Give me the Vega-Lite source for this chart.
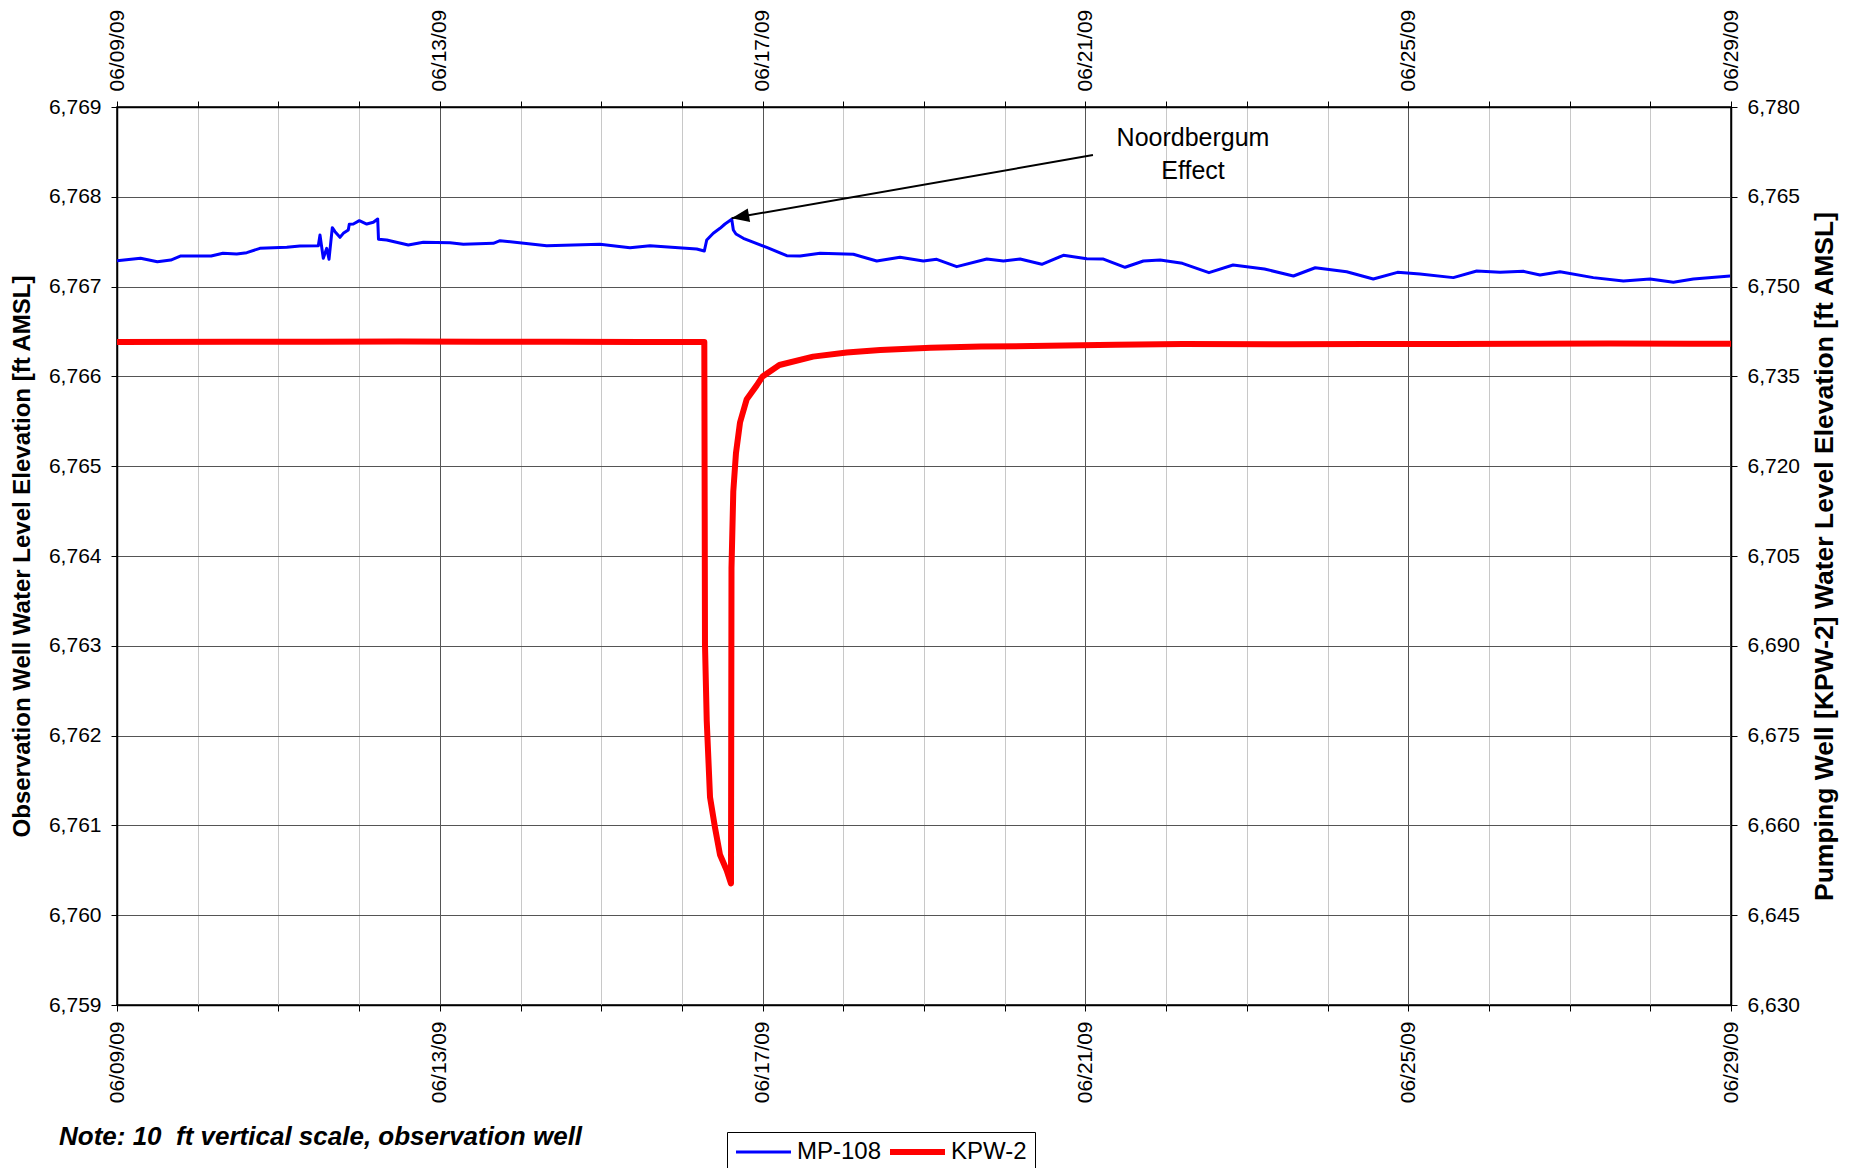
{
  "$schema": "https://vega.github.io/schema/vega-lite/v6.json",
  "width": 1614,
  "height": 898,
  "autosize": {"type": "none"},
  "padding": {"left": 117, "top": 107, "right": 127, "bottom": 163},
  "background": "white",
  "config": {
    "font": "Liberation Sans",
    "view": {"stroke": "black", "strokeWidth": 1.5},
    "axis": {"labelColor": "black", "titleColor": "black", "domainColor": "black", "tickColor": "black", "labelFont": "Liberation Sans", "titleFont": "Liberation Sans"}
  },
  "data": {"values": [
    {"t": "2009-06-09T00:00Z", "series": "MP-108", "elev": 6767.289},
    {"t": "2009-06-09T07:00Z", "series": "MP-108", "elev": 6767.315},
    {"t": "2009-06-09T12:00Z", "series": "MP-108", "elev": 6767.277},
    {"t": "2009-06-09T16:00Z", "series": "MP-108", "elev": 6767.296},
    {"t": "2009-06-09T19:00Z", "series": "MP-108", "elev": 6767.341},
    {"t": "2009-06-10T04:00Z", "series": "MP-108", "elev": 6767.341},
    {"t": "2009-06-10T07:30Z", "series": "MP-108", "elev": 6767.371},
    {"t": "2009-06-10T11:36Z", "series": "MP-108", "elev": 6767.363},
    {"t": "2009-06-10T14:36Z", "series": "MP-108", "elev": 6767.378},
    {"t": "2009-06-10T18:30Z", "series": "MP-108", "elev": 6767.426},
    {"t": "2009-06-11T02:30Z", "series": "MP-108", "elev": 6767.437},
    {"t": "2009-06-11T06:24Z", "series": "MP-108", "elev": 6767.452},
    {"t": "2009-06-11T11:52Z", "series": "MP-108", "elev": 6767.455},
    {"t": "2009-06-11T12:22Z", "series": "MP-108", "elev": 6767.575},
    {"t": "2009-06-11T13:21Z", "series": "MP-108", "elev": 6767.315},
    {"t": "2009-06-11T14:22Z", "series": "MP-108", "elev": 6767.426},
    {"t": "2009-06-11T15:03Z", "series": "MP-108", "elev": 6767.304},
    {"t": "2009-06-11T16:02Z", "series": "MP-108", "elev": 6767.656},
    {"t": "2009-06-11T16:50Z", "series": "MP-108", "elev": 6767.612},
    {"t": "2009-06-11T18:19Z", "series": "MP-108", "elev": 6767.549},
    {"t": "2009-06-11T19:18Z", "series": "MP-108", "elev": 6767.593},
    {"t": "2009-06-11T20:47Z", "series": "MP-108", "elev": 6767.63},
    {"t": "2009-06-11T21:05Z", "series": "MP-108", "elev": 6767.694},
    {"t": "2009-06-11T22:17Z", "series": "MP-108", "elev": 6767.697},
    {"t": "2009-06-12T00:04Z", "series": "MP-108", "elev": 6767.734},
    {"t": "2009-06-12T02:16Z", "series": "MP-108", "elev": 6767.697},
    {"t": "2009-06-12T04:14Z", "series": "MP-108", "elev": 6767.716},
    {"t": "2009-06-12T05:32Z", "series": "MP-108", "elev": 6767.753},
    {"t": "2009-06-12T05:46Z", "series": "MP-108", "elev": 6767.527},
    {"t": "2009-06-12T08:12Z", "series": "MP-108", "elev": 6767.519},
    {"t": "2009-06-12T14:38Z", "series": "MP-108", "elev": 6767.463},
    {"t": "2009-06-12T19:06Z", "series": "MP-108", "elev": 6767.493},
    {"t": "2009-06-13T03:02Z", "series": "MP-108", "elev": 6767.489},
    {"t": "2009-06-13T07:00Z", "series": "MP-108", "elev": 6767.471},
    {"t": "2009-06-13T15:55Z", "series": "MP-108", "elev": 6767.482},
    {"t": "2009-06-13T17:55Z", "series": "MP-108", "elev": 6767.511},
    {"t": "2009-06-14T07:48Z", "series": "MP-108", "elev": 6767.455},
    {"t": "2009-06-14T23:38Z", "series": "MP-108", "elev": 6767.471},
    {"t": "2009-06-15T08:34Z", "series": "MP-108", "elev": 6767.433},
    {"t": "2009-06-15T14:31Z", "series": "MP-108", "elev": 6767.455},
    {"t": "2009-06-16T04:24Z", "series": "MP-108", "elev": 6767.419},
    {"t": "2009-06-16T06:40Z", "series": "MP-108", "elev": 6767.396},
    {"t": "2009-06-16T07:23Z", "series": "MP-108", "elev": 6767.519},
    {"t": "2009-06-16T09:20Z", "series": "MP-108", "elev": 6767.594},
    {"t": "2009-06-16T11:20Z", "series": "MP-108", "elev": 6767.649},
    {"t": "2009-06-16T12:49Z", "series": "MP-108", "elev": 6767.697},
    {"t": "2009-06-16T14:49Z", "series": "MP-108", "elev": 6767.749},
    {"t": "2009-06-16T15:18Z", "series": "MP-108", "elev": 6767.63},
    {"t": "2009-06-16T16:05Z", "series": "MP-108", "elev": 6767.586},
    {"t": "2009-06-16T18:16Z", "series": "MP-108", "elev": 6767.538},
    {"t": "2009-06-17T01:14Z", "series": "MP-108", "elev": 6767.437},
    {"t": "2009-06-17T07:11Z", "series": "MP-108", "elev": 6767.344},
    {"t": "2009-06-17T11:09Z", "series": "MP-108", "elev": 6767.341},
    {"t": "2009-06-17T17:06Z", "series": "MP-108", "elev": 6767.371},
    {"t": "2009-06-18T03:00Z", "series": "MP-108", "elev": 6767.36},
    {"t": "2009-06-18T09:57Z", "series": "MP-108", "elev": 6767.285},
    {"t": "2009-06-18T16:52Z", "series": "MP-108", "elev": 6767.326},
    {"t": "2009-06-18T23:48Z", "series": "MP-108", "elev": 6767.285},
    {"t": "2009-06-19T03:47Z", "series": "MP-108", "elev": 6767.304},
    {"t": "2009-06-19T09:44Z", "series": "MP-108", "elev": 6767.222},
    {"t": "2009-06-19T18:40Z", "series": "MP-108", "elev": 6767.307},
    {"t": "2009-06-19T23:37Z", "series": "MP-108", "elev": 6767.285},
    {"t": "2009-06-20T04:35Z", "series": "MP-108", "elev": 6767.307},
    {"t": "2009-06-20T11:02Z", "series": "MP-108", "elev": 6767.248},
    {"t": "2009-06-20T17:27Z", "series": "MP-108", "elev": 6767.349},
    {"t": "2009-06-21T00:25Z", "series": "MP-108", "elev": 6767.311},
    {"t": "2009-06-21T05:22Z", "series": "MP-108", "elev": 6767.307},
    {"t": "2009-06-21T11:48Z", "series": "MP-108", "elev": 6767.215},
    {"t": "2009-06-21T17:15Z", "series": "MP-108", "elev": 6767.285},
    {"t": "2009-06-21T22:13Z", "series": "MP-108", "elev": 6767.296},
    {"t": "2009-06-22T04:50Z", "series": "MP-108", "elev": 6767.259},
    {"t": "2009-06-22T12:45Z", "series": "MP-108", "elev": 6767.155},
    {"t": "2009-06-22T19:55Z", "series": "MP-108", "elev": 6767.24},
    {"t": "2009-06-23T05:15Z", "series": "MP-108", "elev": 6767.196},
    {"t": "2009-06-23T13:52Z", "series": "MP-108", "elev": 6767.118},
    {"t": "2009-06-23T20:21Z", "series": "MP-108", "elev": 6767.21},
    {"t": "2009-06-24T05:42Z", "series": "MP-108", "elev": 6767.166},
    {"t": "2009-06-24T13:37Z", "series": "MP-108", "elev": 6767.085},
    {"t": "2009-06-24T20:49Z", "series": "MP-108", "elev": 6767.159},
    {"t": "2009-06-25T03:30Z", "series": "MP-108", "elev": 6767.14},
    {"t": "2009-06-25T13:25Z", "series": "MP-108", "elev": 6767.1},
    {"t": "2009-06-25T20:23Z", "series": "MP-108", "elev": 6767.174},
    {"t": "2009-06-26T03:19Z", "series": "MP-108", "elev": 6767.16},
    {"t": "2009-06-26T10:15Z", "series": "MP-108", "elev": 6767.17},
    {"t": "2009-06-26T15:12Z", "series": "MP-108", "elev": 6767.129},
    {"t": "2009-06-26T21:09Z", "series": "MP-108", "elev": 6767.166},
    {"t": "2009-06-27T07:03Z", "series": "MP-108", "elev": 6767.1},
    {"t": "2009-06-27T16:00Z", "series": "MP-108", "elev": 6767.063},
    {"t": "2009-06-27T23:56Z", "series": "MP-108", "elev": 6767.085},
    {"t": "2009-06-28T06:52Z", "series": "MP-108", "elev": 6767.048},
    {"t": "2009-06-28T12:49Z", "series": "MP-108", "elev": 6767.085},
    {"t": "2009-06-28T23:44Z", "series": "MP-108", "elev": 6767.118},
    {"t": "2009-06-09T00:00Z", "series": "KPW-2", "elev": 6740.75},
    {"t": "2009-06-10T12:00Z", "series": "KPW-2", "elev": 6740.78},
    {"t": "2009-06-11T12:00Z", "series": "KPW-2", "elev": 6740.8},
    {"t": "2009-06-12T12:00Z", "series": "KPW-2", "elev": 6740.85},
    {"t": "2009-06-13T12:00Z", "series": "KPW-2", "elev": 6740.8},
    {"t": "2009-06-14T12:00Z", "series": "KPW-2", "elev": 6740.77},
    {"t": "2009-06-15T12:00Z", "series": "KPW-2", "elev": 6740.75},
    {"t": "2009-06-16T06:40Z", "series": "KPW-2", "elev": 6740.73},
    {"t": "2009-06-16T06:52Z", "series": "KPW-2", "elev": 6690.2},
    {"t": "2009-06-16T07:23Z", "series": "KPW-2", "elev": 6677.5},
    {"t": "2009-06-16T08:22Z", "series": "KPW-2", "elev": 6664.7},
    {"t": "2009-06-16T09:51Z", "series": "KPW-2", "elev": 6659.6},
    {"t": "2009-06-16T11:20Z", "series": "KPW-2", "elev": 6655.1},
    {"t": "2009-06-16T13:19Z", "series": "KPW-2", "elev": 6652.5},
    {"t": "2009-06-16T14:36Z", "series": "KPW-2", "elev": 6650.3},
    {"t": "2009-06-16T14:45Z", "series": "KPW-2", "elev": 6703.0},
    {"t": "2009-06-16T15:17Z", "series": "KPW-2", "elev": 6715.8},
    {"t": "2009-06-16T16:05Z", "series": "KPW-2", "elev": 6722.2},
    {"t": "2009-06-16T17:17Z", "series": "KPW-2", "elev": 6727.3},
    {"t": "2009-06-16T19:17Z", "series": "KPW-2", "elev": 6731.2},
    {"t": "2009-06-16T22:15Z", "series": "KPW-2", "elev": 6733.5},
    {"t": "2009-06-17T00:00Z", "series": "KPW-2", "elev": 6735.0},
    {"t": "2009-06-17T05:00Z", "series": "KPW-2", "elev": 6736.9},
    {"t": "2009-06-17T15:00Z", "series": "KPW-2", "elev": 6738.3},
    {"t": "2009-06-18T01:00Z", "series": "KPW-2", "elev": 6739.0},
    {"t": "2009-06-18T11:00Z", "series": "KPW-2", "elev": 6739.4},
    {"t": "2009-06-19T02:00Z", "series": "KPW-2", "elev": 6739.8},
    {"t": "2009-06-19T17:00Z", "series": "KPW-2", "elev": 6740.0},
    {"t": "2009-06-20T13:00Z", "series": "KPW-2", "elev": 6740.1},
    {"t": "2009-06-21T09:00Z", "series": "KPW-2", "elev": 6740.3},
    {"t": "2009-06-22T05:00Z", "series": "KPW-2", "elev": 6740.4},
    {"t": "2009-06-23T12:00Z", "series": "KPW-2", "elev": 6740.35},
    {"t": "2009-06-24T12:00Z", "series": "KPW-2", "elev": 6740.4},
    {"t": "2009-06-25T12:00Z", "series": "KPW-2", "elev": 6740.42},
    {"t": "2009-06-26T12:00Z", "series": "KPW-2", "elev": 6740.45},
    {"t": "2009-06-27T12:00Z", "series": "KPW-2", "elev": 6740.5},
    {"t": "2009-06-28T12:00Z", "series": "KPW-2", "elev": 6740.45},
    {"t": "2009-06-29T00:00Z", "series": "KPW-2", "elev": 6740.45}
  ]},
  "layer": [
    {
      "transform": [{"filter": "datum.series === 'MP-108'"}],
      "mark": {"type": "line", "strokeWidth": 3, "strokeJoin": "round"},
      "encoding": {
        "x": {"field": "t", "type": "temporal",
          "scale": {"type": "utc", "domain": [{"year": 2009, "month": 6, "date": 9, "utc": true}, {"year": 2009, "month": 6, "date": 29, "utc": true}], "nice": false},
          "axis": {"orient": "bottom", "title": null,
            "values": [{"year":2009,"month":6,"date":9,"utc":true},{"year":2009,"month":6,"date":10,"utc":true},{"year":2009,"month":6,"date":11,"utc":true},{"year":2009,"month":6,"date":12,"utc":true},{"year":2009,"month":6,"date":13,"utc":true},{"year":2009,"month":6,"date":14,"utc":true},{"year":2009,"month":6,"date":15,"utc":true},{"year":2009,"month":6,"date":16,"utc":true},{"year":2009,"month":6,"date":17,"utc":true},{"year":2009,"month":6,"date":18,"utc":true},{"year":2009,"month":6,"date":19,"utc":true},{"year":2009,"month":6,"date":20,"utc":true},{"year":2009,"month":6,"date":21,"utc":true},{"year":2009,"month":6,"date":22,"utc":true},{"year":2009,"month":6,"date":23,"utc":true},{"year":2009,"month":6,"date":24,"utc":true},{"year":2009,"month":6,"date":25,"utc":true},{"year":2009,"month":6,"date":26,"utc":true},{"year":2009,"month":6,"date":27,"utc":true},{"year":2009,"month":6,"date":28,"utc":true},{"year":2009,"month":6,"date":29,"utc":true}],
            "labelExpr": "(datum.value - 1244505600000) % 345600000 === 0 ? utcFormat(datum.value, '%m/%d/%y') : ''",
            "labelAngle": -90, "labelFontSize": 21, "labelPadding": 10, "labelFlush": false, "labelOverlap": false, "labelBound": false,
            "tickSize": 6, "tickWidth": 1, "domainWidth": 1.5,
            "grid": true, "gridWidth": 1,
            "gridColor": {"condition": {"test": "(datum.value - 1244505600000) % 345600000 === 0", "value": "#555555"}, "value": "#c8c8c8"}}},
        "y": {"field": "elev", "type": "quantitative",
          "scale": {"domain": [6759, 6769], "nice": false, "zero": false},
          "axis": {"orient": "left", "values": [6759, 6760, 6761, 6762, 6763, 6764, 6765, 6766, 6767, 6768, 6769], "format": ",d",
            "labelFontSize": 21, "labelPadding": 10, "tickSize": 6, "domainWidth": 1.5,
            "grid": true, "gridColor": "#555555", "gridWidth": 1,
            "title": "Observation Well Water Level Elevation [ft AMSL]", "titleFontSize": 24, "titleFontWeight": "bold", "titlePadding": 14}},
        "color": {"field": "series", "type": "nominal",
          "scale": {"domain": ["MP-108", "KPW-2"], "range": ["#0000ff", "#ff0000"]},
          "legend": {"orient": "none", "legendX": 610, "legendY": 1025, "direction": "horizontal", "title": null,
            "symbolType": "M-0.4,0H1.6", "symbolSize": 3025, "symbolStrokeWidth": 3,
            "labelFontSize": 24, "labelFont": "Liberation Sans", "labelColor": "black",
            "labelOffset": 38, "columnPadding": -4, "padding": 8,
            "strokeColor": "black", "fillColor": "white",
            "encode": {"symbols": {"update": {"strokeWidth": {"signal": "datum.value === 'KPW-2' ? 6 : 3"}}}}}}
      }
    },
    {
      "transform": [{"filter": "datum.series === 'KPW-2'"}],
      "mark": {"type": "line", "strokeWidth": 6, "strokeJoin": "round"},
      "encoding": {
        "x": {"field": "t", "type": "temporal",
          "scale": {"type": "utc", "domain": [{"year": 2009, "month": 6, "date": 9, "utc": true}, {"year": 2009, "month": 6, "date": 29, "utc": true}], "nice": false},
          "axis": {"orient": "top", "title": null,
            "values": [{"year":2009,"month":6,"date":9,"utc":true},{"year":2009,"month":6,"date":10,"utc":true},{"year":2009,"month":6,"date":11,"utc":true},{"year":2009,"month":6,"date":12,"utc":true},{"year":2009,"month":6,"date":13,"utc":true},{"year":2009,"month":6,"date":14,"utc":true},{"year":2009,"month":6,"date":15,"utc":true},{"year":2009,"month":6,"date":16,"utc":true},{"year":2009,"month":6,"date":17,"utc":true},{"year":2009,"month":6,"date":18,"utc":true},{"year":2009,"month":6,"date":19,"utc":true},{"year":2009,"month":6,"date":20,"utc":true},{"year":2009,"month":6,"date":21,"utc":true},{"year":2009,"month":6,"date":22,"utc":true},{"year":2009,"month":6,"date":23,"utc":true},{"year":2009,"month":6,"date":24,"utc":true},{"year":2009,"month":6,"date":25,"utc":true},{"year":2009,"month":6,"date":26,"utc":true},{"year":2009,"month":6,"date":27,"utc":true},{"year":2009,"month":6,"date":28,"utc":true},{"year":2009,"month":6,"date":29,"utc":true}],
            "labelExpr": "(datum.value - 1244505600000) % 345600000 === 0 ? utcFormat(datum.value, '%m/%d/%y') : ''",
            "labelAngle": -90, "labelFontSize": 21, "labelPadding": 10, "labelFlush": false, "labelOverlap": false, "labelBound": false,
            "tickSize": 6, "tickWidth": 1, "domainWidth": 1.5, "grid": false}},
        "y": {"field": "elev", "type": "quantitative",
          "scale": {"domain": [6630, 6780], "nice": false, "zero": false},
          "axis": {"orient": "right", "values": [6630, 6645, 6660, 6675, 6690, 6705, 6720, 6735, 6750, 6765, 6780], "format": ",d",
            "labelFontSize": 21, "labelPadding": 10, "tickSize": 6, "domainWidth": 1.5, "grid": false,
            "title": "Pumping Well [KPW-2] Water Level Elevation [ft AMSL]", "titleFontSize": 26.5, "titleFontWeight": "bold", "titlePadding": 12, "titleAngle": 270, "titleBaseline": "top"}},
        "color": {"field": "series", "type": "nominal", "scale": {"domain": ["MP-108", "KPW-2"], "range": ["#0000ff", "#ff0000"]}}
      }
    },
    {
      "data": {"values": [{"t": "2009-06-21T02:15Z", "v": 6768.465, "t2": "2009-06-16T14:47Z", "v2": 6767.761}]},
      "mark": {"type": "rule", "stroke": "black", "strokeWidth": 2},
      "encoding": {
        "x": {"field": "t", "type": "temporal", "axis": null, "scale": {"type": "utc", "domain": [{"year": 2009, "month": 6, "date": 9, "utc": true}, {"year": 2009, "month": 6, "date": 29, "utc": true}], "nice": false}},
        "x2": {"field": "t2"},
        "y": {"field": "v", "type": "quantitative", "axis": null, "scale": {"domain": [6759, 6769], "nice": false, "zero": false}},
        "y2": {"field": "v2"}
      }
    },
    {
      "data": {"values": [{"t": "2009-06-16T14:47Z", "v": 6767.761}]},
      "mark": {"type": "point", "shape": "M0,0L-0.85,2.2L0.85,2.2Z", "size": 256, "angle": 260, "filled": true, "color": "black", "opacity": 1, "strokeWidth": 0},
      "encoding": {
        "x": {"field": "t", "type": "temporal", "axis": null, "scale": {"type": "utc", "domain": [{"year": 2009, "month": 6, "date": 9, "utc": true}, {"year": 2009, "month": 6, "date": 29, "utc": true}], "nice": false}},
        "y": {"field": "v", "type": "quantitative", "axis": null, "scale": {"domain": [6759, 6769], "nice": false, "zero": false}}
      }
    },
    {
      "data": {"values": [{"t": "2009-06-22T08:00Z", "v": 6768.569, "label": "Noordbergum\nEffect"}]},
      "mark": {"type": "text", "lineBreak": "\n", "align": "center", "baseline": "alphabetic", "fontSize": 25, "font": "Liberation Sans", "color": "black", "lineHeight": 33},
      "encoding": {
        "x": {"field": "t", "type": "temporal", "axis": null, "scale": {"type": "utc", "domain": [{"year": 2009, "month": 6, "date": 9, "utc": true}, {"year": 2009, "month": 6, "date": 29, "utc": true}], "nice": false}},
        "y": {"field": "v", "type": "quantitative", "axis": null, "scale": {"domain": [6759, 6769], "nice": false, "zero": false}},
        "text": {"field": "label"}
      }
    },
    {
      "data": {"values": [{"t": "2009-06-08T06:45Z", "v": 6757.441, "label": "Note: 10\u00a0 ft vertical scale, observation well"}]},
      "mark": {"type": "text", "align": "left", "baseline": "alphabetic", "fontSize": 26, "font": "Liberation Sans", "fontStyle": "italic", "fontWeight": "bold", "color": "black"},
      "encoding": {
        "x": {"field": "t", "type": "temporal", "axis": null, "scale": {"type": "utc", "domain": [{"year": 2009, "month": 6, "date": 9, "utc": true}, {"year": 2009, "month": 6, "date": 29, "utc": true}], "nice": false}},
        "y": {"field": "v", "type": "quantitative", "axis": null, "scale": {"domain": [6759, 6769], "nice": false, "zero": false}},
        "text": {"field": "label"}
      }
    }
  ],
  "resolve": {"scale": {"y": "independent"}, "axis": {"x": "independent"}}
}
